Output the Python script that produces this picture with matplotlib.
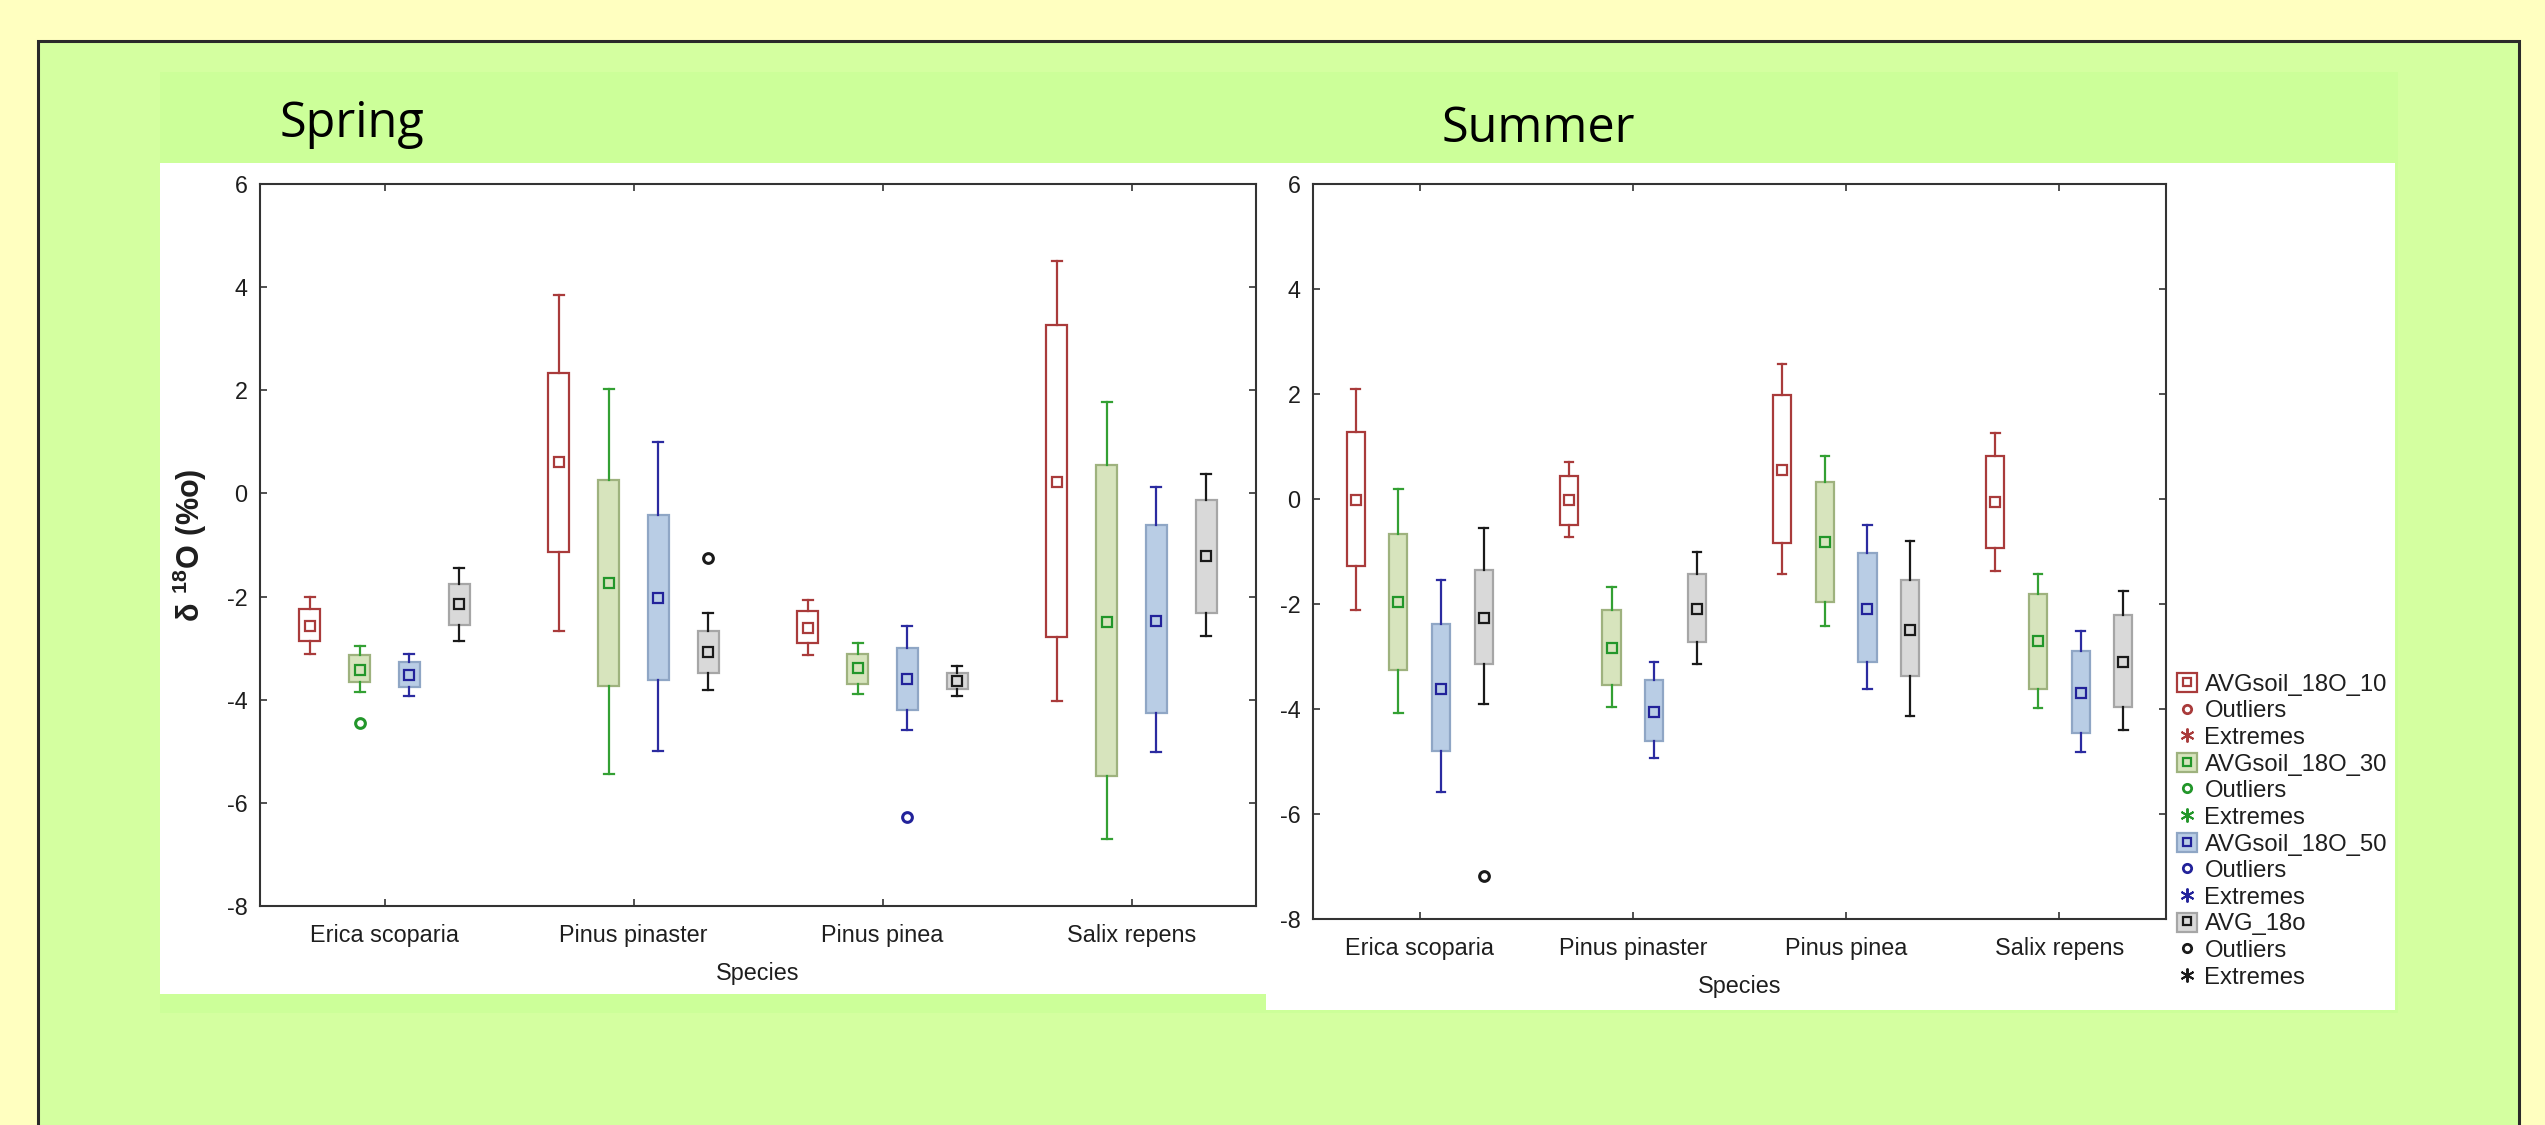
import matplotlib
matplotlib.use("Agg")
import matplotlib.pyplot as plt
from matplotlib.patches import Rectangle, Patch
from matplotlib.lines import Line2D
from matplotlib.legend_handler import HandlerTuple

# ---------------------------------------------------------------- data
species = ["Erica scoparia", "Pinus pinaster", "Pinus pinea", "Salix repens"]
series_names = ["AVGsoil_18O_10", "AVGsoil_18O_30", "AVGsoil_18O_50", "AVG_18o"]
y_ticks = [-8, -6, -4, -2, 0, 2, 4, 6]

# Spring: whisker low, Q1, median, Q3, whisker high per species
spring_10_lo = [-3.11, -2.66, -3.13, -4.02]
spring_10_q1 = [-2.87, -1.14, -2.90, -2.79]
spring_10_med = [-2.57, 0.60, -2.61, 0.22]
spring_10_q3 = [-2.25, 2.33, -2.28, 3.26]
spring_10_hi = [-2.00, 3.84, -2.07, 4.50]
spring_10_out = [[], [], [], []]

spring_30_lo = [-3.86, -5.44, -3.89, -6.71]
spring_30_q1 = [-3.66, -3.73, -3.69, -5.47]
spring_30_med = [-3.42, -1.74, -3.39, -2.50]
spring_30_q3 = [-3.14, 0.27, -3.11, 0.55]
spring_30_hi = [-2.96, 2.03, -2.90, 1.78]
spring_30_out = [[-4.45], [], [], []]

spring_50_lo = [-3.92, -4.99, -4.58, -5.02]
spring_50_q1 = [-3.76, -3.62, -4.20, -4.26]
spring_50_med = [-3.53, -2.02, -3.60, -2.47]
spring_50_q3 = [-3.27, -0.42, -2.99, -0.62]
spring_50_hi = [-3.11, 1.00, -2.58, 0.13]
spring_50_out = [[], [], [-6.28], []]

spring_avg_lo = [-2.87, -3.82, -3.92, -2.76]
spring_avg_q1 = [-2.55, -3.48, -3.79, -2.31]
spring_avg_med = [-2.14, -3.08, -3.63, -1.22]
spring_avg_q3 = [-1.76, -2.66, -3.48, -0.12]
spring_avg_hi = [-1.45, -2.31, -3.34, 0.37]
spring_avg_out = [[], [-1.26], [], []]

# Summer
summer_10_lo = [-2.11, -0.73, -1.42, -1.38]
summer_10_q1 = [-1.28, -0.49, -0.84, -0.93]
summer_10_med = [-0.01, -0.01, 0.56, -0.05]
summer_10_q3 = [1.27, 0.44, 1.99, 0.81]
summer_10_hi = [2.10, 0.71, 2.58, 1.26]
summer_10_out = [[], [], [], []]

summer_30_lo = [-4.08, -3.97, -2.42, -3.99]
summer_30_q1 = [-3.25, -3.55, -1.97, -3.62]
summer_30_med = [-1.96, -2.84, -0.82, -2.71]
summer_30_q3 = [-0.67, -2.11, 0.33, -1.80]
summer_30_hi = [0.19, -1.67, 0.82, -1.43]
summer_30_out = [[], [], [], []]

summer_50_lo = [-5.58, -4.93, -3.62, -4.82]
summer_50_q1 = [-4.80, -4.61, -3.10, -4.45]
summer_50_med = [-3.61, -4.05, -2.09, -3.70]
summer_50_q3 = [-2.39, -3.45, -1.02, -2.90]
summer_50_hi = [-1.55, -3.10, -0.49, -2.52]
summer_50_out = [[], [], [], []]

summer_avg_lo = [-3.90, -3.15, -4.14, -4.40]
summer_avg_q1 = [-3.15, -2.73, -3.38, -3.97]
summer_avg_med = [-2.26, -2.09, -2.50, -3.11]
summer_avg_q3 = [-1.36, -1.42, -1.55, -2.21]
summer_avg_hi = [-0.56, -1.01, -0.80, -1.76]
summer_avg_out = [[-7.19], [], [], []]

spring = [
    (spring_10_lo, spring_10_q1, spring_10_med, spring_10_q3, spring_10_hi, spring_10_out),
    (spring_30_lo, spring_30_q1, spring_30_med, spring_30_q3, spring_30_hi, spring_30_out),
    (spring_50_lo, spring_50_q1, spring_50_med, spring_50_q3, spring_50_hi, spring_50_out),
    (spring_avg_lo, spring_avg_q1, spring_avg_med, spring_avg_q3, spring_avg_hi, spring_avg_out),
]
summer = [
    (summer_10_lo, summer_10_q1, summer_10_med, summer_10_q3, summer_10_hi, summer_10_out),
    (summer_30_lo, summer_30_q1, summer_30_med, summer_30_q3, summer_30_hi, summer_30_out),
    (summer_50_lo, summer_50_q1, summer_50_med, summer_50_q3, summer_50_hi, summer_50_out),
    (summer_avg_lo, summer_avg_q1, summer_avg_med, summer_avg_q3, summer_avg_hi, summer_avg_out),
]

# ---------------------------------------------------------------- styles
box_fill = ["white", "#D7E4BD", "#B9CDE5", "#D9D9D9"]
box_edge = ["#A93B3B", "#9EB27E", "#8FA6C5", "#A6A6A6"]
whisker_col = ["#A93B3B", "#33A033", "#2B2BA0", "#1A1A1A"]
marker_col = ["#A93B3B", "#22962A", "#22229A", "#1A1A1A"]
offsets = [-0.3, -0.1, 0.1, 0.3]

W, H = 2545, 1125
plt.rcParams["font.family"] = ["Liberation Sans", "DejaVu Sans"]
plt.rcParams["mathtext.fontset"] = "custom"
plt.rcParams["mathtext.rm"] = "Liberation Sans"
plt.rcParams["mathtext.bf"] = "Liberation Sans:bold"

fig = plt.figure(figsize=(W / 100, H / 100), dpi=100)
fig.patch.set_facecolor("#FFFFC0")


def fx(px):
    return px / W


def fy(py):
    return 1 - py / H


def frect(x0, y0, x1, y1, **kw):
    fig.patches.append(Rectangle((fx(x0), fy(y1)), fx(x1) - fx(x0), fy(y0) - fy(y1),
                                 transform=fig.transFigure, figure=fig, zorder=-10, **kw))


# slide background and white chart panels
frect(38, 41, 2519, 1140, facecolor="#D4FFA0", edgecolor="#2A2A2A", linewidth=2.2)
frect(160, 72, 2398, 1013, facecolor="#CCFF99", edgecolor="none")
frect(160, 163, 1266, 994, facecolor="white", edgecolor="none")
frect(1266, 163, 2395, 1010, facecolor="white", edgecolor="none")

fig.text(fx(280), fy(137), "Spring", fontsize=35, family="Open Sans", va="baseline", ha="left")
fig.text(fx(1442), fy(142), "Summer", fontsize=35, family="Open Sans", va="baseline", ha="left")

text_col = "#1E1E1E"


def draw_panel(ax, season):
    for k, (lo, q1, med, q3, hi, out) in enumerate(season):
        stats = []
        for i in range(len(species)):
            stats.append(dict(whislo=lo[i], q1=q1[i], med=med[i], mean=med[i],
                              q3=q3[i], whishi=hi[i], fliers=out[i]))
        pos = [i + offsets[k] for i in range(len(species))]
        ax.bxp(stats, positions=pos, widths=0.085, capwidths=0.04,
               patch_artist=True, showmeans=True, showfliers=True, manage_ticks=False,
               boxprops=dict(facecolor=box_fill[k], edgecolor=box_edge[k], linewidth=1.6),
               whiskerprops=dict(color=whisker_col[k], linewidth=1.6),
               capprops=dict(color=whisker_col[k], linewidth=1.6),
               medianprops=dict(linewidth=0),
               meanprops=dict(marker="s", markersize=7, markerfacecolor="none",
                              markeredgecolor=marker_col[k], markeredgewidth=1.6),
               flierprops=dict(marker="o", markersize=7, markerfacecolor="none",
                               markeredgecolor=marker_col[k], markeredgewidth=2.2))
    ax.set_xlim(-0.5, len(species) - 0.5)
    ax.set_ylim(-8, 6)
    ax.set_yticks(y_ticks)
    ax.set_yticklabels([str(t) for t in y_ticks])
    ax.set_xticks(range(len(species)))
    ax.set_xticklabels(species)
    ax.tick_params(direction="in", length=5, width=1.2, top=True, right=True,
                   labelsize=16.8, labelcolor=text_col, color="#333333")
    ax.tick_params(axis="y", pad=9)
    ax.tick_params(axis="x", pad=13)
    ax.set_xlabel("Species", fontsize=16.8, color=text_col, labelpad=11)
    for s in ax.spines.values():
        s.set_linewidth(1.5)
        s.set_color("#333333")
    ax.set_facecolor("white")


ax1 = fig.add_axes([fx(260), fy(906), fx(1256) - fx(260), fy(184) - fy(906)])
draw_panel(ax1, spring)
ax1.set_ylabel(r"$\mathbf{\delta\ ^{18}O\ (\%o)}$", fontsize=22, labelpad=13,
               color=text_col)

ax2 = fig.add_axes([fx(1313), fy(919), fx(2166) - fx(1313), fy(184) - fy(919)])
draw_panel(ax2, summer)

# legend
handles, labels = [], []
for k in range(4):
    handles.append((Patch(facecolor=box_fill[k], edgecolor=box_edge[k], linewidth=1.6),
                    Line2D([], [], marker="s", markersize=6, markerfacecolor="none",
                           markeredgecolor=marker_col[k], markeredgewidth=1.6, linestyle="none")))
    labels.append(series_names[k])
    handles.append(Line2D([], [], marker="o", markersize=6, markerfacecolor="none",
                          markeredgecolor=marker_col[k], markeredgewidth=2, linestyle="none"))
    labels.append("Outliers")
    handles.append(Line2D([], [], marker=(6, 2, 0), markersize=10,
                          markeredgecolor=marker_col[k], markeredgewidth=1.4, linestyle="none"))
    labels.append("Extremes")

fig.legend(handles, labels, handler_map={tuple: HandlerTuple(ndivide=1)},
           loc="upper left", bbox_to_anchor=(fx(2177), fy(673)), frameon=False,
           borderpad=0, borderaxespad=0, handlelength=0.85, handleheight=0.85,
           handletextpad=0.3, labelspacing=0.16,
           prop=dict(family="Liberation Sans", size=17.2))
for t in fig.legends[0].get_texts():
    t.set_color(text_col)

fig.savefig("out.png", dpi=100, facecolor=fig.get_facecolor())
